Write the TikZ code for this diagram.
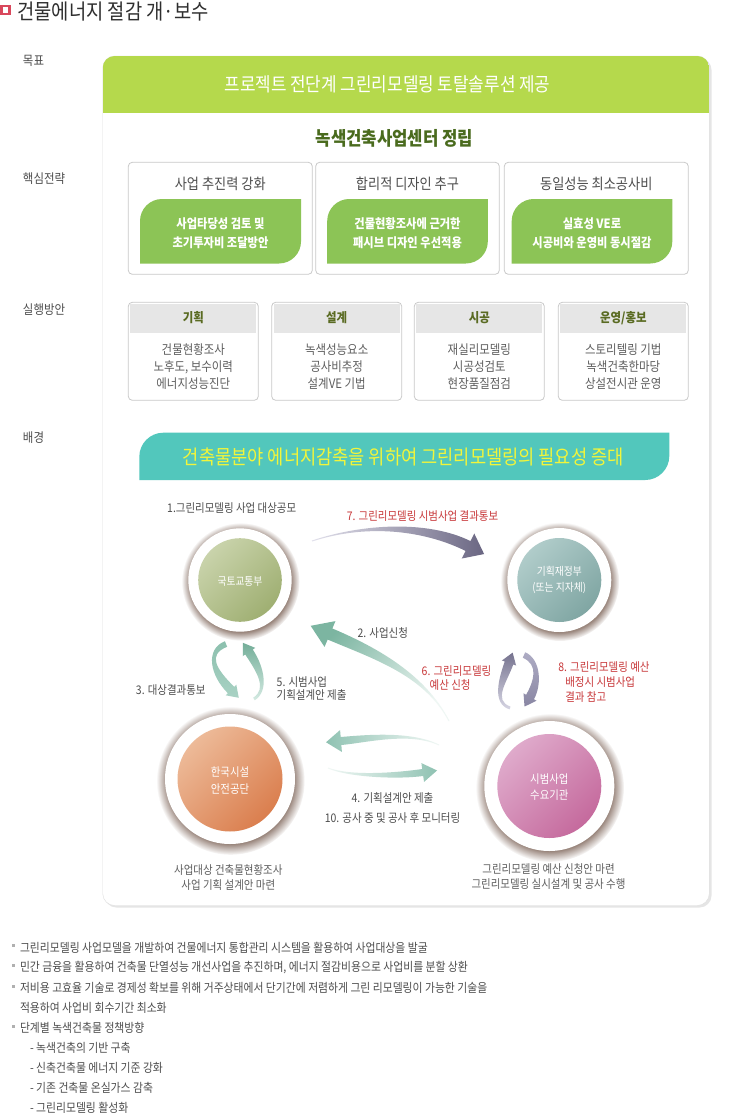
\documentclass[tikz,border=0pt]{standalone}
\usepackage{fontspec}
\setmainfont{Noto Sans CJK KR}[FakeStretch=0.88]
\usetikzlibrary{calc,shadows}
\definecolor{bandgreen}{HTML}{B5D94C}
\definecolor{leafgreen}{HTML}{8CC456}
\definecolor{olive}{HTML}{4A6B1E}
\definecolor{hdrolive}{HTML}{5A6B22}
\definecolor{boxgray}{HTML}{C9C9C9}
\definecolor{hdrgray}{HTML}{E6E6E6}
\definecolor{labgray}{HTML}{4D4D4D}
\definecolor{bodygray}{HTML}{5E5E5E}
\definecolor{titlegray}{HTML}{2E2E2E}
\definecolor{labred}{HTML}{C8383A}
\definecolor{bannerteal}{HTML}{52C7BC}
\definecolor{banneryellow}{HTML}{F2F53A}
\definecolor{iconred}{HTML}{D9485C}
\definecolor{shadowbrown}{HTML}{7D6458}
\definecolor{tealdark}{HTML}{7CB5A1}
\definecolor{teallight}{HTML}{E4F1EC}
\definecolor{tealmid}{HTML}{8FC2B2}
\definecolor{purpdark}{HTML}{6A6682}
\definecolor{purplight}{HTML}{E2E1EC}
\definecolor{bulletgray}{HTML}{B0B0B0}
\definecolor{molitA}{HTML}{C9D3AB}\definecolor{molitB}{HTML}{9FAF72}
\definecolor{moefA}{HTML}{B0CCCA}\definecolor{moefB}{HTML}{80A6A3}
\definecolor{koshaA}{HTML}{EDBA98}\definecolor{koshaB}{HTML}{DA7E4E}
\definecolor{demA}{HTML}{DFAACB}\definecolor{demB}{HTML}{C56A9D}
\definecolor{arcTa}{HTML}{8CC0AE}\definecolor{arcTb}{HTML}{A9D2C4}
\definecolor{arcTc}{HTML}{74AE99}\definecolor{arcTd}{HTML}{D4EAE2}
\definecolor{arcPa}{HTML}{76738F}\definecolor{arcPb}{HTML}{D6D5E3}
\definecolor{arcPc}{HTML}{AEACC4}\definecolor{arcPd}{HTML}{8986A3}
\newcommand\fsz[2]{\fontsize{#1}{#2}\selectfont}
% leaf shape: top-left and bottom-right rounded
\newcommand\leafshape[6]{%
  \fill[#6] (#1,#4) -- (#1,{#2+#5}) .. controls (#1,{#2+0.45*#5}) and ({#1+0.45*#5},#2) .. ({#1+#5},#2)
   -- (#3,#2) -- (#3,{#4-#5}) .. controls (#3,{#4-0.45*#5}) and ({#3-0.45*#5},#4) .. ({#3-#5},#4) -- cycle;}
% tapered curved arrow
\newcommand\tarrowshape[9]{%
  \coordinate (tP0) at #1; \coordinate (tC1) at #2; \coordinate (tC2) at #3; \coordinate (tP3) at #4;
  \coordinate (tA0) at ($(tP0)!#5!90:(tC1)$);
  \coordinate (tB0) at ($(tP0)!#5!-90:(tC1)$);
  \coordinate (tA3) at ($(tP3)!#6!-90:(tC2)$);
  \coordinate (tB3) at ($(tP3)!#6!90:(tC2)$);
  \coordinate (tAc1) at ($(tC1)+(tA0)-(tP0)$);
  \coordinate (tBc1) at ($(tC1)+(tB0)-(tP0)$);
  \coordinate (tAc2) at ($(tC2)+(tA3)-(tP3)$);
  \coordinate (tBc2) at ($(tC2)+(tB3)-(tP3)$);
  \coordinate (tHA) at ($(tP3)!#7!-90:(tC2)$);
  \coordinate (tHB) at ($(tP3)!#7!90:(tC2)$);
  \coordinate (tT) at ($(tP3)!-#8!(tC2)$);
  \shade[#9] (tA0) .. controls (tAc1) and (tAc2) .. (tA3) -- (tHA) -- (tT) -- (tHB) -- (tB3)
     .. controls (tBc2) and (tBc1) .. (tB0) -- cycle;}
\tikzset{
  sidelab/.style={anchor=west, font=\fsz{13}{16}, text=labgray},
  sbox/.style={draw=boxgray, line width=0.8pt, rounded corners=4pt, minimum width=184pt, minimum height=112pt},
  stitle/.style={font=\fsz{15}{18}, text=labgray},
  leaftext/.style={font=\bfseries\fsz{12.8}{19.5}, text=white, align=center},
  ebox/.style={draw=boxgray, line width=0.8pt, rounded corners=4pt, minimum width=130pt, minimum height=98pt},
  etitle/.style={font=\bfseries\fsz{13}{15}, text=hdrolive},
  ebody/.style={font=\fsz{13}{17}, text=bodygray, align=center},
  ring/.style={circle, fill=white, inner sep=0pt,
     circular drop shadow={shadow xshift=0.5pt, shadow yshift=-1.5pt, shadow scale=1.14, opacity=0.78, fill=shadowbrown}},
  ctext/.style={font=\fsz{11.1}{16}, text=white, align=center},
  ctextbig/.style={font=\fsz{11.8}{16.5}, text=white, align=center},
  lab/.style={font=\fsz{11.9}{13.5}, text=labgray},
  redlab/.style={font=\fsz{11.9}{14}, text=labred},
  botlab/.style={font=\fsz{11.9}{15}, text=bodygray, align=center},
  bul/.style={anchor=west, font=\fsz{12.3}{14}, text=labgray},
  bsq/.style={fill=bulletgray, minimum size=3.5pt, inner sep=0pt},
}
\begin{document}
\begin{tikzpicture}[x=1pt,y=-1pt, every node/.append style={inner sep=0pt, outer sep=0pt}]
\useasboundingbox (0,0) rectangle (750,1118);
\fill[white] (0,0) rectangle (750,1118);

% ---- title
\node[fill=iconred, minimum size=10.5pt] (icon) at (5.6,10) {};
\node[fill=white, minimum size=5.2pt] (iconin) at (5.4,10) {};
\node[anchor=west, font=\fsz{21.3}{24}, text=titlegray] (title) at (17.5,11.5) {건물에너지 절감 개·보수};

% ---- side labels
\node[sidelab] (lgoal) at (23,61) {목표};
\node[sidelab] (lstrat) at (23,178.5) {핵심전략};
\node[sidelab] (lexec) at (23,310) {실행방안};
\node[sidelab] (lback) at (23,438) {배경};

% ---- main panel
\fill[black!10, rounded corners=12pt] (104.5,58) rectangle (711.5,907.5);
\draw[fill=white, draw=black!13, rounded corners=12pt] (102.7,56) rectangle (709.3,905.5);
\begin{scope}
  \clip[rounded corners=12pt] (102.7,56) rectangle (709.3,905.5);
  \fill[bandgreen] (102.7,56) rectangle (709.3,112.7);
\end{scope}
\node[font=\fsz{19.2}{22}, text=white] (goal) at (387.5,84.5) {프로젝트 전단계 그린리모델링 토탈솔루션 제공};
\node[font=\bfseries\fsz{19}{21}, text=olive] (center) at (394.5,138.5) {녹색건축사업센터 정립};

% ---- strategy boxes
\node[sbox] (s1) at (220.3,218.3) {};
\node[sbox, minimum width=183.6pt] (s2) at (407.5,218.3) {};
\node[sbox] (s3) at (596.3,218.3) {};
\node[stitle] (s1t) at (220.3,184) {사업 추진력 강화};
\node[stitle] (s2t) at (407.5,184) {합리적 디자인 추구};
\node[stitle] (s3t) at (596.3,184) {동일성능 최소공사비};
\leafshape{140}{199}{301}{263.5}{22}{leafgreen}
\leafshape{327.2}{199}{487.8}{263.5}{22}{leafgreen}
\leafshape{511.7}{199}{672.3}{263.5}{22}{leafgreen}
\node[leaftext] (s1l) at (220.5,233) {사업타당성 검토 및\\초기투자비 조달방안};
\node[leaftext] (s2l) at (407.5,233) {건물현황조사에 근거한\\패시브 디자인 우선적용};
\node[leaftext] (s3l) at (592,233) {실효성 VE로\\시공비와 운영비 동시절감};

% ---- execution boxes
\foreach \cx/\nm in {193.3/e1, 336.7/e2, 479.3/e3, 623.3/e4}{
  \node[ebox] (\nm) at (\cx,351.3) {};
  \fill[hdrgray] ({\cx-63},304.3) rectangle ({\cx+63},332.7);
}
\node[etitle] (e1t) at (193.3,318) {기획};
\node[etitle] (e2t) at (336.7,318) {설계};
\node[etitle] (e3t) at (479.3,318) {시공};
\node[etitle] (e4t) at (623.3,318) {운영/홍보};
\node[ebody] (e1b) at (193.3,367) {건물현황조사\\노후도, 보수이력\\에너지성능진단};
\node[ebody] (e2b) at (336.7,367) {녹색성능요소\\공사비추정\\설계VE 기법};
\node[ebody] (e3b) at (479.3,367) {재실리모델링\\시공성검토\\현장품질점검};
\node[ebody] (e4b) at (623.3,367) {스토리텔링 기법\\녹색건축한마당\\상설전시관 운영};

% ---- background banner
\leafshape{139.3}{432.7}{669.3}{480}{24}{bannerteal}
\node[font=\fsz{20}{22}, text=banneryellow] (banner) at (403.3,457) {건축물분야 에너지감축을 위하여 그린리모델링의 필요성 증대};

% ---- circles
\node[ring, minimum size=103.4pt] (molit) at (240,580) {};
\shade[top color=molitA, bottom color=molitB, shading angle=45] (molit.center) circle[radius=41.8];
\node[ctext] (molitT) at (240,581.5) {국토교통부};

\node[ring, minimum size=104pt] (moef) at (559.3,580) {};
\shade[top color=moefA, bottom color=moefB, shading angle=45] (moef.center) circle[radius=42];
\node[ctext] (moefT) at (559.3,580.3) {기획재정부\\(또는 지자체)};

\node[ring, minimum size=130pt] (kosha) at (230,779) {};
\shade[top color=koshaA, bottom color=koshaB, shading angle=45] (kosha.center) circle[radius=52.5];
\node[ctextbig] (koshaT) at (230,780.5) {한국시설\\안전공단};

\node[ring, minimum size=130pt] (dem) at (549.3,786) {};
\shade[top color=demA, bottom color=demB, shading angle=45] (dem.center) circle[radius=52];
\node[ctextbig] (demT) at (549.3,787) {시범사업\\수요기관};

% ---- arrows
% 7: molit -> moef
\tarrowshape{(312,541)}{(370,522)}{(430,527)}{(468,546)}{0.5pt}{5.5pt}{14pt}{18pt}{left color=purplight, right color=purpdark}
% 2: demand -> molit
\tarrowshape{(449,721)}{(425,675)}{(376,653.5)}{(330,634)}{0.5pt}{6pt}{14pt}{21pt}{top color=tealdark, bottom color=teallight!60!white, shading angle=45}
% 4 upper (to kosha)
\tarrowshape{(439,745)}{(410,731)}{(365,739)}{(341,741)}{0.5pt}{4pt}{11pt}{15pt}{left color=tealmid, right color=teallight!50!white}
% 4 lower (to demand)
\tarrowshape{(328,768)}{(350,777)}{(398,776)}{(422.7,772.5)}{0.5pt}{3.5pt}{9.5pt}{14.5pt}{left color=teallight!50!white, right color=tealmid}
% 3 / 5 circular
\tarrowshape{(226,644)}{(206,652)}{(213,672)}{(231,690)}{3pt}{4.5pt}{7.5pt}{11pt}{top color=arcTa, bottom color=arcTb}
\tarrowshape{(254,699)}{(268,690)}{(261.1,670.3)}{(249,652)}{1.5pt}{4.5pt}{7.5pt}{11pt}{top color=arcTc, bottom color=arcTd}
% 6 / 8 circular
\tarrowshape{(510,708)}{(492,702)}{(503,680)}{(509,663)}{1.5pt}{4.5pt}{7.5pt}{11pt}{top color=arcPa, bottom color=arcPb}
\tarrowshape{(524,655)}{(540,662)}{(538,683)}{(530,697)}{3pt}{4.5pt}{7.5pt}{11pt}{top color=arcPc, bottom color=arcPd}

% ---- labels
\node[lab] (l1) at (231.7,508.3) {1.그린리모델링 사업 대상공모};
\node[redlab] (l7) at (422.5,516) {7. 그린리모델링 시범사업 결과통보};
\node[lab] (l2) at (382.8,632.7) {2. 사업신청};
\node[lab] (l3) at (170.8,690) {3. 대상결과통보};
\node[lab, anchor=west, align=left] (l5) at (276.7,688.3) {5. 시범사업\\기획설계안 제출};
\node[redlab, anchor=west, align=left] (l6) at (421.7,678.5) {6. 그린리모델링\\\hspace*{8pt}예산 신청};
\node[redlab, anchor=west, align=left, font=\fsz{11.9}{15}] (l8) at (558.3,681.7) {8. 그린리모델링 예산\\\hspace*{7pt}배정시 시범사업\\\hspace*{7pt}결과 참고};
\node[lab] (l4) at (392.5,798.3) {4. 기획설계안 제출};
\node[lab] (l10) at (392.5,818.3) {10. 공사 중 및 공사 후 모니터링};
\node[botlab] (kb) at (228.3,877.5) {사업대상 건축물현황조사\\사업 기획 설계안 마련};
\node[botlab] (db) at (548.5,876.7) {그린리모델링 예산 신청안 마련\\그린리모델링 실시설계 및 공사 수행};

% ---- bullet list
\node[bsq] (q1) at (13.5,945.7) {};
\node[bsq] (q2) at (13.5,965.7) {};
\node[bsq] (q3) at (13.5,986.3) {};
\node[bsq] (q4) at (13.5,1026.3) {};
\node[bul] (t1) at (20,947.7) {그린리모델링 사업모델을 개발하여 건물에너지 통합관리 시스템을 활용하여 사업대상을 발굴};
\node[bul] (t2) at (20,967.7) {민간 금융을 활용하여 건축물 단열성능 개선사업을 추진하며, 에너지 절감비용으로 사업비를 분할 상환};
\node[bul] (t3) at (20,988.3) {저비용 고효율 기술로 경제성 확보를 위해 거주상태에서 단기간에 저렴하게 그린 리모델링이 가능한 기술을};
\node[bul] (t3b) at (20,1008.3) {적용하여 사업비 회수기간 최소화};
\node[bul] (t4) at (20,1028.3) {단계별 녹색건축물 정책방향};
\node[bul] (t4a) at (30,1048.3) {- 녹색건축의 기반 구축};
\node[bul] (t4b) at (30,1068.3) {- 신축건축물 에너지 기준 강화};
\node[bul] (t4c) at (30,1088.3) {- 기존 건축물 온실가스 감축};
\node[bul] (t4d) at (30,1107.7) {- 그린리모델링 활성화};
\end{tikzpicture}
\end{document}
